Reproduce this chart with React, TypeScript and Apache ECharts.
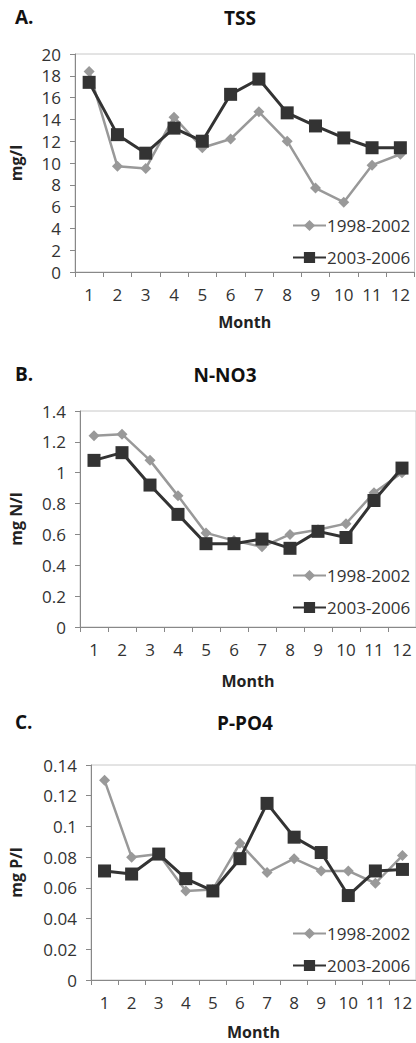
import React, { useEffect, useRef } from "react";
import * as echarts from "echarts";

const months = ["1", "2", "3", "4", "5", "6", "7", "8", "9", "10", "11", "12"];
const seriesNames = ["1998-2002", "2003-2006"];

const tss9802 = [18.4, 9.7, 9.5, 14.2, 11.4, 12.2, 14.7, 12.0, 7.7, 6.4, 9.8, 10.8];
const tss0306 = [17.4, 12.6, 10.9, 13.2, 12.0, 16.3, 17.7, 14.6, 13.4, 12.3, 11.4, 11.4];

const no39802 = [1.24, 1.25, 1.08, 0.85, 0.61, 0.56, 0.52, 0.6, 0.63, 0.67, 0.87, 1.0];
const no30306 = [1.08, 1.13, 0.92, 0.73, 0.54, 0.54, 0.57, 0.51, 0.62, 0.58, 0.82, 1.03];

const po49802 = [0.13, 0.08, 0.082, 0.058, 0.059, 0.089, 0.07, 0.079, 0.071, 0.071, 0.063, 0.081];
const po40306 = [0.071, 0.069, 0.082, 0.066, 0.058, 0.079, 0.115, 0.093, 0.083, 0.055, 0.071, 0.072];

const panelLetters = ["A.", "B.", "C."];
const panelTitles = ["TSS", "N-NO3", "P-PO4"];
const yNames = ["mg/l", "mg N/l", "mg P/l"];
const yMax = [20, 1.4, 0.14];
const yInterval = [2, 0.2, 0.02];

const FONT = "'Open Sans', 'Noto Sans', sans-serif";
const GRAY = "#999999";
const DARK = "#333333";

export default function App() {
  const ref = useRef<HTMLDivElement>(null);
  useEffect(() => {
    if (!ref.current) return;
    const chart = echarts.init(ref.current, null, { renderer: "svg" });

    const grids = [
      { left: 68.5, top: 54, width: 346, height: 218 },
      { left: 74.5, top: 411, width: 343, height: 216 },
      { left: 88, top: 765, width: 330, height: 215 },
    ];
    const yNameGap = [51, 56, 67];
    const xNameGap = [42, 46, 44];
    const data = [
      [tss9802, tss0306],
      [no39802, no30306],
      [po49802, po40306],
    ];
    const titleY = [18, 375, 723];
    const titleX = [240, 225, 245];
    const legendTop = [212, 562, 920];

    const option: any = {
      animation: false,
      textStyle: { fontFamily: FONT },
      grid: grids.map((g) => ({
        ...g,
        show: true,
        borderColor: "#c8c8c8",
        borderWidth: 1,
        backgroundColor: "transparent",
      })),
      xAxis: grids.map((_, i) => ({
        type: "category",
        gridIndex: i,
        data: months,
        boundaryGap: true,
        name: "Month",
        nameLocation: "middle",
        nameGap: xNameGap[i],
        nameTextStyle: { fontFamily: FONT, fontWeight: "bold", fontSize: 16, color: "#222" },
        axisLine: { lineStyle: { color: "#888", width: 1 } },
        axisTick: { show: true, interval: 0, alignWithLabel: false, length: 5, lineStyle: { color: "#888" } },
        axisLabel: { fontFamily: FONT, fontSize: 17, color: "#333", margin: 14, interval: 0 },
        splitLine: { show: false },
      })),
      yAxis: grids.map((_, i) => ({
        type: "value",
        gridIndex: i,
        min: 0,
        max: yMax[i],
        interval: yInterval[i],
        name: yNames[i],
        nameLocation: "middle",
        nameGap: yNameGap[i],
        nameRotate: 90,
        nameTextStyle: { fontFamily: FONT, fontWeight: "bold", fontSize: 16, color: "#222" },
        axisLine: { show: true, lineStyle: { color: "#888", width: 1 } },
        axisTick: { show: true, length: 5, lineStyle: { color: "#888" } },
        axisLabel: {
          fontFamily: FONT,
          fontSize: 17,
          color: "#333",
          margin: 14,
          formatter: (v: number) => String(+v.toFixed(2)),
        },
        splitLine: { show: false },
      })),
      legend: grids.map((_, i) => ({
        data: seriesNames,
        orient: "vertical",
        left: 287,
        top: legendTop[i],
        itemWidth: 33,
        itemHeight: 14,
        itemGap: 15,
        textStyle: { fontFamily: FONT, fontSize: 17, color: "#333", padding: [0, 0, 0, -4] },
      })),
      series: data.flatMap((pair, i) => [
        {
          name: seriesNames[0],
          type: "line",
          xAxisIndex: i,
          yAxisIndex: i,
          data: pair[0],
          symbol: "diamond",
          symbolSize: 11,
          lineStyle: { color: GRAY, width: 2.5 },
          itemStyle: { color: GRAY },
          z: 2,
        },
        {
          name: seriesNames[1],
          type: "line",
          xAxisIndex: i,
          yAxisIndex: i,
          data: pair[1],
          symbol: "rect",
          symbolSize: 13,
          lineStyle: { color: DARK, width: 3 },
          itemStyle: { color: DARK },
          z: 3,
        },
      ]),
      graphic: [
        ...panelLetters.map((t, i) => ({
          type: "text",
          left: 15,
          top: titleY[i] - 11,
          style: { text: t, font: `bold 19px ${FONT}`, fill: "#111" },
        })),
        ...panelTitles.map((t, i) => ({
          type: "text",
          x: titleX[i],
          y: titleY[i],
          style: {
            text: t,
            font: `bold 19px ${FONT}`,
            fill: "#111",
            textAlign: "center",
            textVerticalAlign: "middle",
          },
        })),
      ],
    };
    chart.setOption(option);
    return () => chart.dispose();
  }, []);

  return (
    <div
      ref={ref}
      style={{ position: "absolute", left: 0, top: 0, width: 416, height: 1043, background: "#fff" }}
    />
  );
}
